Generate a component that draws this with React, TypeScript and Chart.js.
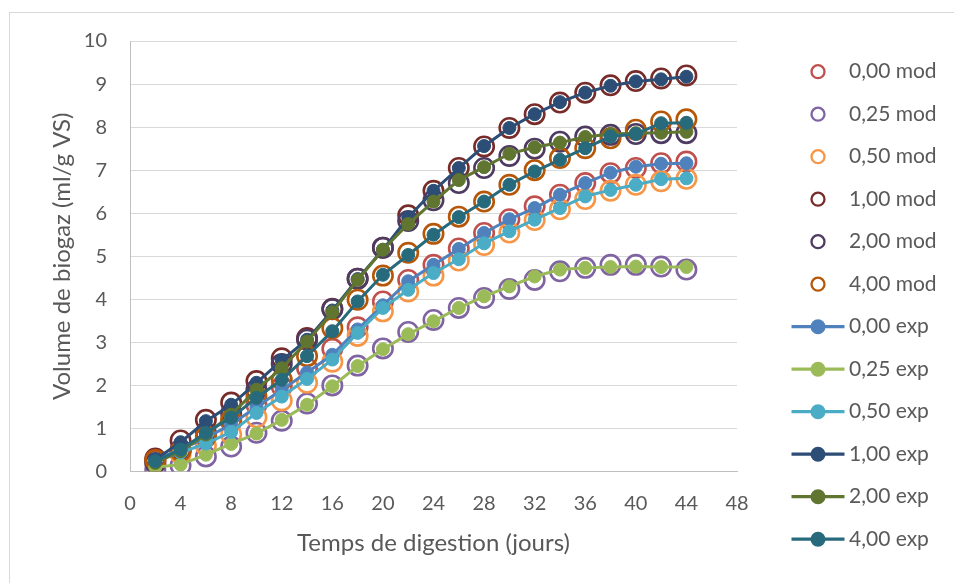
import React, { useEffect, useRef } from "react";
import { Chart, registerables } from "chart.js";

Chart.register(...registerables);

const days = [2, 4, 6, 8, 10, 12, 14, 16, 18, 20, 22, 24, 26, 28, 30, 32, 34, 36, 38, 40, 42, 44];

const xTicks = [0, 4, 8, 12, 16, 20, 24, 28, 32, 36, 40, 44, 48];
const yTicks = [0, 1, 2, 3, 4, 5, 6, 7, 8, 9, 10];

const mod000 = [0.25, 0.5, 0.8, 1.15, 1.55, 1.97, 2.4, 2.85, 3.35, 3.95, 4.45, 4.8, 5.18, 5.54, 5.86, 6.16, 6.43, 6.7, 6.93, 7.05, 7.16, 7.2];
const mod025 = [0.04, 0.14, 0.35, 0.58, 0.9, 1.18, 1.58, 2.0, 2.46, 2.86, 3.24, 3.52, 3.8, 4.03, 4.24, 4.45, 4.65, 4.73, 4.8, 4.8, 4.76, 4.69];
const mod050 = [0.2, 0.4, 0.6, 0.86, 1.26, 1.65, 2.06, 2.55, 3.15, 3.72, 4.18, 4.55, 4.9, 5.26, 5.55, 5.84, 6.09, 6.33, 6.52, 6.66, 6.74, 6.8];
const mod100 = [0.3, 0.72, 1.2, 1.6, 2.1, 2.63, 3.1, 3.78, 4.48, 5.2, 5.95, 6.52, 7.05, 7.55, 7.98, 8.3, 8.57, 8.8, 8.97, 9.07, 9.13, 9.2];
const mod200 = [0.2, 0.5, 0.9, 1.35, 1.9, 2.5, 3.06, 3.77, 4.48, 5.2, 5.82, 6.3, 6.7, 7.05, 7.33, 7.5, 7.66, 7.78, 7.82, 7.84, 7.86, 7.86];
const mod400 = [0.27, 0.47, 0.82, 1.2, 1.74, 2.13, 2.68, 3.33, 3.99, 4.55, 5.08, 5.52, 5.92, 6.27, 6.66, 7.0, 7.28, 7.51, 7.74, 7.94, 8.13, 8.18];

const exp000 = [0.28, 0.51, 0.78, 1.09, 1.5, 1.9, 2.3, 2.71, 3.3, 3.86, 4.42, 4.8, 5.17, 5.54, 5.86, 6.12, 6.43, 6.7, 6.94, 7.08, 7.15, 7.16];
const exp025 = [0.1, 0.16, 0.39, 0.64, 0.88, 1.2, 1.55, 1.98, 2.45, 2.84, 3.19, 3.49, 3.8, 4.07, 4.3, 4.53, 4.69, 4.73, 4.75, 4.76, 4.75, 4.75];
const exp050 = [0.25, 0.44, 0.65, 0.92, 1.36, 1.74, 2.15, 2.6, 3.22, 3.8, 4.22, 4.61, 4.93, 5.3, 5.58, 5.85, 6.12, 6.39, 6.54, 6.66, 6.79, 6.81];
const exp100 = [0.28, 0.68, 1.17, 1.55, 2.06, 2.58, 3.06, 3.74, 4.47, 5.15, 5.9, 6.52, 7.05, 7.56, 7.98, 8.3, 8.58, 8.8, 8.96, 9.06, 9.11, 9.17];
const exp200 = [0.2, 0.47, 0.86, 1.32, 1.9, 2.4, 3.02, 3.7, 4.45, 5.15, 5.75, 6.27, 6.77, 7.07, 7.38, 7.53, 7.64, 7.77, 7.84, 7.86, 7.87, 7.89];
const exp400 = [0.24, 0.51, 0.9, 1.25, 1.71, 2.13, 2.68, 3.26, 3.95, 4.57, 5.03, 5.5, 5.91, 6.27, 6.66, 6.97, 7.24, 7.51, 7.78, 7.84, 8.09, 8.1];

const modLabels = ["0,00 mod", "0,25 mod", "0,50 mod", "1,00 mod", "2,00 mod", "4,00 mod"];
const expLabels = ["0,00 exp", "0,25 exp", "0,50 exp", "1,00 exp", "2,00 exp", "4,00 exp"];
const modSeries = [mod000, mod025, mod050, mod100, mod200, mod400];
const expSeries = [exp000, exp025, exp050, exp100, exp200, exp400];
const modColors = ["#C0504D", "#8064A2", "#F79646", "#772C2A", "#4D3B62", "#B65708"];
const expColors = ["#4F81BD", "#9BBB59", "#4BACC6", "#2C4D75", "#5F7530", "#276A7C"];

const xTitle = "Temps de digestion (jours)";
const yTitle = "Volume de biogaz (ml/g VS)";

const TEXT = "#595959";
const FONT = "Lato";

const sideLegend = {
  id: "sideLegend",
  afterDraw(chart: any) {
    const ctx = chart.ctx as CanvasRenderingContext2D;
    const top = 71.7;
    const step = 42.5;
    const cx = 818;
    const tx = 849;
    ctx.save();
    ctx.font = `21px ${FONT}`;
    ctx.textBaseline = "middle";
    ctx.textAlign = "left";
    chart.data.datasets.forEach((ds: any, i: number) => {
      const y = top + i * step;
      const c = ds.borderColor;
      if (ds.showLine) {
        ctx.strokeStyle = c;
        ctx.lineWidth = 3.3;
        ctx.beginPath();
        ctx.moveTo(cx - 26.5, y);
        ctx.lineTo(cx + 26.5, y);
        ctx.stroke();
        ctx.fillStyle = c;
        ctx.beginPath();
        ctx.arc(cx, y, 7.5, 0, Math.PI * 2);
        ctx.fill();
      } else {
        ctx.strokeStyle = c;
        ctx.lineWidth = 2.3;
        ctx.beginPath();
        ctx.arc(cx, y, 6.5, 0, Math.PI * 2);
        ctx.stroke();
      }
      ctx.fillStyle = TEXT;
      ctx.fillText(ds.label, tx, y);
    });
    ctx.restore();
  },
};

export default function App() {
  const ref = useRef<HTMLCanvasElement | null>(null);

  useEffect(() => {
    if (!ref.current) return;
    const toPts = (vals: number[]) => days.map((d, i) => ({ x: d, y: vals[i] }));
    const datasets: any[] = [];
    modSeries.forEach((vals, i) => {
      datasets.push({
        label: modLabels[i],
        data: toPts(vals),
        showLine: false,
        borderColor: modColors[i],
        backgroundColor: "rgba(0,0,0,0)",
        pointRadius: 9.7,
        pointHoverRadius: 9.7,
        pointBorderWidth: 2.6,
        pointBorderColor: modColors[i],
        pointBackgroundColor: "rgba(0,0,0,0)",
        order: 12 - i,
      });
    });
    expSeries.forEach((vals, i) => {
      datasets.push({
        label: expLabels[i],
        data: toPts(vals),
        showLine: true,
        borderColor: expColors[i],
        backgroundColor: expColors[i],
        borderWidth: 3,
        pointRadius: 6.5,
        pointHoverRadius: 6.5,
        pointBorderWidth: 1,
        pointBorderColor: expColors[i],
        pointBackgroundColor: expColors[i],
        tension: 0,
        order: 6 - i,
      });
    });

    const chart = new Chart(ref.current, {
      type: "scatter",
      data: { datasets },
      options: {
        animation: false,
        responsive: false,
        maintainAspectRatio: false,
        layout: { padding: { left: 10, top: 41, right: 217, bottom: 12 } },
        font: { family: FONT },
        plugins: {
          legend: { display: false },
          tooltip: { enabled: false },
        },
        scales: {
          x: {
            type: "linear",
            min: xTicks[0],
            max: xTicks[xTicks.length - 1],
            afterBuildTicks: (scale: any) => {
              scale.ticks = xTicks.map((v) => ({ value: v }));
            },
            afterFit: (scale: any) => {
              scale.height = 99.5;
            },
            ticks: {
              color: TEXT,
              font: { family: FONT, size: 20 },
              padding: 20,
              maxRotation: 0,
              autoSkip: false,
            },
            grid: { display: false, drawTicks: false },
            border: { display: true, color: "#BFBFBF", width: 1 },
            title: {
              display: true,
              text: xTitle,
              color: TEXT,
              font: { family: FONT, size: 24 },
              padding: { top: 0, bottom: 13.6 },
            },
          },
          y: {
            type: "linear",
            min: yTicks[0],
            max: yTicks[yTicks.length - 1],
            afterBuildTicks: (scale: any) => {
              scale.ticks = yTicks.map((v) => ({ value: v }));
            },
            afterFit: (scale: any) => {
              scale.width = 120;
            },
            ticks: {
              color: TEXT,
              font: { family: FONT, size: 20 },
              padding: 23,
              autoSkip: false,
            },
            grid: { color: "#D9D9D9", lineWidth: 1, drawTicks: false },
            border: { display: true, color: "#BFBFBF", width: 1 },
            title: {
              display: true,
              text: yTitle,
              color: TEXT,
              font: { family: FONT, size: 24 },
              padding: { top: 38, bottom: 7 },
            },
          },
        },
      },
      plugins: [sideLegend],
    } as any);
    return () => chart.destroy();
  }, []);

  return (
    <div style={{ position: "fixed", left: 0, top: 0, width: 954, height: 583, background: "#fff", overflow: "hidden" }}>
      <div
        style={{
          position: "absolute",
          left: 9,
          top: 12,
          width: 1000,
          height: 700,
          border: "1px solid #D9D9D9",
          boxSizing: "border-box",
        }}
      />
      <canvas ref={ref} width={954} height={583} style={{ position: "absolute", left: 0, top: 0, width: 954, height: 583 }} />
    </div>
  );
}
